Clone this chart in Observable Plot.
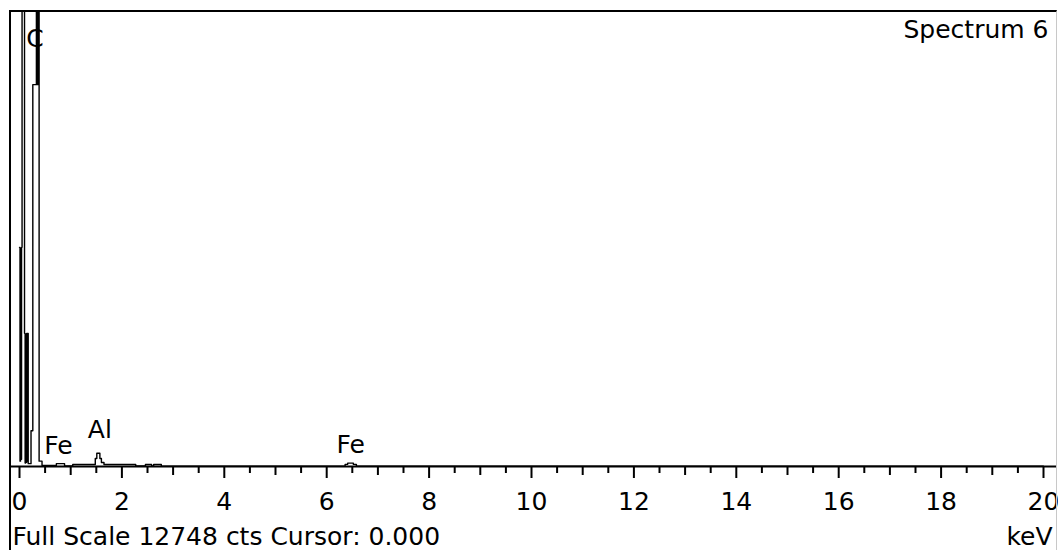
<!DOCTYPE html>
<html><head><meta charset="utf-8">
<script src="https://cdn.jsdelivr.net/npm/d3@7"></script>
<script src="https://cdn.jsdelivr.net/npm/@observablehq/plot@0.6"></script>
<style>
body{margin:0;background:#fff;}
#wrap{position:relative;width:1058px;height:550px;overflow:hidden;}
#border{position:absolute;left:9px;top:10px;width:1045px;height:545px;border-left:2px solid #000;border-top:2px solid #000;border-right:1px solid #c8c8c8;pointer-events:none;}
</style></head>
<body><div id="wrap"><div id="border"></div></div>
<script>
const fullScale = 12748;
// bin start energies (keV) and counts per bin
const energy = [0.00,0.01,0.02,0.03,0.04,0.05,0.098,0.11,0.12,0.13,0.14,0.15,0.16,0.17,0.225,0.26,0.33,0.34,0.35,0.36,0.37,0.383,0.44,0.72,0.88,1.04,1.48,1.51,1.57,1.60,1.65,2.27,2.46,2.58,2.62,2.77,6.36,6.41,6.52,6.58,20.0];
const counts = [6140,150,6100,200,6140,20000,3730,100,3700,120,3730,150,3730,80,1000,10700,20000,10700,20000,10700,20000,150,30,80,15,55,225,370,225,110,55,12,55,12,55,8,60,95,60,8,8];
const majorTicks = [0,2,4,6,8,10,12,14,16,18,20];
const minorTicks = [1,3,5,7,9,11,13,15,17,19];
const halfTicks = [0.5,1.5,2.5,3.5,4.5,5.5,6.5,7.5,8.5,9.5,10.5,11.5,12.5,13.5,14.5,15.5,16.5,17.5,18.5,19.5];
const peakNames = ["C","Fe","Al","Fe"];
const peakEnergy = [0.30,0.76,1.57,6.47];
const peakLabelCounts = [11767,364,812,392];
const title = "Spectrum 6";
const footer = "Full Scale 12748 cts Cursor: 0.000";
const unit = "keV";

const data = energy.map((e, i) => ({e, c: counts[i]}));
const peaks = peakNames.map((label, i) => ({label, e: peakEnergy[i], c: peakLabelCounts[i]}));

const plot = Plot.plot({
  width: 1058, height: 550,
  marginLeft: 10, marginRight: 2, marginTop: 11, marginBottom: 84,
  x: {domain: [0, 20], range: [19, 1043], axis: null, label: null},
  y: {domain: [0, fullScale], axis: null, label: null},
  style: {fontFamily: "DejaVu Sans", fontSize: "25px", color: "#000", background: "#fff", overflow: "visible"},
  marks: [
    Plot.text(peaks, {x: "e", y: "c", text: "label", lineAnchor: "bottom", fontSize: 25, fill: "#000"}),
    Plot.line(data, {x: "e", y: "c", curve: "step-after", stroke: "#000", strokeWidth: 1.4, clip: true}),
    Plot.ruleY([0], {stroke: "#000", strokeWidth: 2}),
    Plot.axisX({ticks: majorTicks, label: null, tickSize: 12, tickPadding: 14, strokeWidth: 2, fontSize: 25, fill: "#000", tickFormat: d => String(d)}),
    Plot.axisX({ticks: minorTicks, label: null, tickSize: 9, strokeWidth: 2, tickFormat: () => ""}),
    Plot.axisX({ticks: halfTicks, label: null, tickSize: 7, strokeWidth: 2, tickFormat: () => ""}),
    Plot.text([title], {text: d => d, frameAnchor: "top-right", dx: -8, dy: 26, textAnchor: "end", lineAnchor: "bottom", fontSize: 25, fill: "#000"}),
    Plot.text([footer], {text: d => d, frameAnchor: "bottom-left", dx: 2, dy: 78, textAnchor: "start", lineAnchor: "bottom", fontSize: 25, fill: "#000"}),
    Plot.text([unit], {text: d => d, frameAnchor: "bottom-right", dx: -4, dy: 78, textAnchor: "end", lineAnchor: "bottom", fontSize: 25, fill: "#000"})
  ]
});
document.getElementById("wrap").appendChild(plot);
</script>
</body></html>
